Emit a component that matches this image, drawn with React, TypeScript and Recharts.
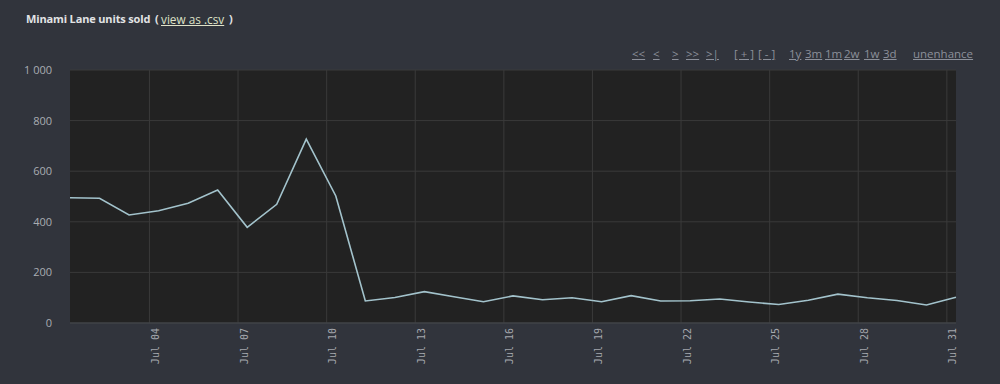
import React from 'react';
import { LineChart, Line, XAxis, YAxis, CartesianGrid } from 'recharts';

// daily samples, Jul 01 .. Jul 31
const days = [
  '07-01', '07-02', '07-03', '07-04', '07-05', '07-06', '07-07', '07-08',
  '07-09', '07-10', '07-11', '07-12', '07-13', '07-14', '07-15', '07-16',
  '07-17', '07-18', '07-19', '07-20', '07-21', '07-22', '07-23', '07-24',
  '07-25', '07-26', '07-27', '07-28', '07-29', '07-30', '07-31',
];
const unitsSold = [
  495, 493, 427, 444, 473, 526, 378, 469, 727, 502, 87, 101, 124, 104, 84, 107,
  92, 100, 84, 108, 87, 88, 95, 83, 73, 90, 114, 100, 89, 71, 102,
];
// samples are taken ~7.5h after midnight
const SAMPLE_OFFSET = 0.31;
const tickDays = [3, 6, 9, 12, 15, 18, 21, 24, 27, 30];
const tickLabels = ['Jul 04', 'Jul 07', 'Jul 10', 'Jul 13', 'Jul 16', 'Jul 19', 'Jul 22', 'Jul 25', 'Jul 28', 'Jul 31'];
const yTicks = [0, 200, 400, 600, 800, 1000];

// top-right controls: label + left edge in px
const controls: [string, number][] = [
  ['<<', 632], ['<', 653], ['>', 672], ['>>', 686], ['>|', 706],
  ['[ + ]', 734], ['[ - ]', 758],
  ['1y', 789], ['3m', 805], ['1m', 825], ['2w', 844], ['1w', 864], ['3d', 883],
  ['unenhance', 913],
];

const data = days.map((d, i) => ({
  t: Number(d.split('-')[1]) - 1 + SAMPLE_OFFSET,
  units: unitsSold[i],
}));

const formatY = (v: number) => String(v).replace(/\B(?=(\d{3})+(?!\d))/g, ' ');

const DateTick = ({ x, y, payload }: any) => {
  const idx = tickDays.indexOf(payload.value);
  const tx = x + 9.5;
  const ty = y + 5;
  return (
    <text
      x={tx}
      y={ty}
      transform={`rotate(-90, ${tx}, ${ty})`}
      textAnchor="end"
      fill="#a4a7ad"
      fontSize={10}
      fontFamily="'DejaVu Sans Mono', monospace"
    >
      {tickLabels[idx]}
    </text>
  );
};

const linkStyle: React.CSSProperties = {
  position: 'absolute',
  top: 46,
  fontSize: 11.5,
  color: '#8c909a',
  textDecoration: 'underline',
  whiteSpace: 'pre',
};

const titleStyle: React.CSSProperties = {
  position: 'absolute',
  top: 11,
  fontSize: 11,
  fontWeight: 'bold',
  color: '#e2e3e5',
  whiteSpace: 'nowrap',
};

export default function App() {
  return (
    <div
      style={{
        position: 'fixed',
        left: 0,
        top: 0,
        width: 1000,
        height: 384,
        background: '#31343c',
        fontFamily: "'Open Sans', sans-serif",
        overflow: 'hidden',
      }}
    >
      <span style={{ ...titleStyle, left: 26, letterSpacing: -0.15 }}>Minami Lane units sold</span>
      <span style={{ ...titleStyle, left: 155 }}>(</span>
      <span style={{ ...titleStyle, left: 161, fontSize: 11.8, fontWeight: 'normal', color: '#dfe2c8', textDecoration: 'underline' }}>
        view as .csv
      </span>
      <span style={{ ...titleStyle, left: 229 }}>)</span>

      {controls.map(([label, left]) => (
        <span key={label} style={{ ...linkStyle, left }}>
          {label}
        </span>
      ))}

      <div style={{ position: 'absolute', left: 0, top: 0 }}>
        <LineChart width={1000} height={384} data={data} margin={{ top: 70, right: 44, left: 0, bottom: 0 }}>
          <CartesianGrid stroke="#3a3a3a" fill="#222222" verticalValues={tickDays} />
          <XAxis
            dataKey="t"
            type="number"
            domain={['dataMin', 'dataMax']}
            ticks={tickDays}
            interval={0}
            height={61}
            tickLine={false}
            tickSize={0}
            tickMargin={0}
            axisLine={{ stroke: '#45484f' }}
            tick={<DateTick />}
          />
          <YAxis
            type="number"
            domain={[0, 1000]}
            ticks={yTicks}
            width={70}
            tickLine={false}
            axisLine={false}
            tickSize={0}
            tickMargin={18}
            tickFormatter={formatY}
            tick={{ fill: '#a9acb2', fontSize: 11 }}
          />
          <Line
            type="linear"
            dataKey="units"
            stroke="#a3c3cc"
            strokeWidth={1.6}
            dot={false}
            isAnimationActive={false}
          />
        </LineChart>
      </div>
    </div>
  );
}
